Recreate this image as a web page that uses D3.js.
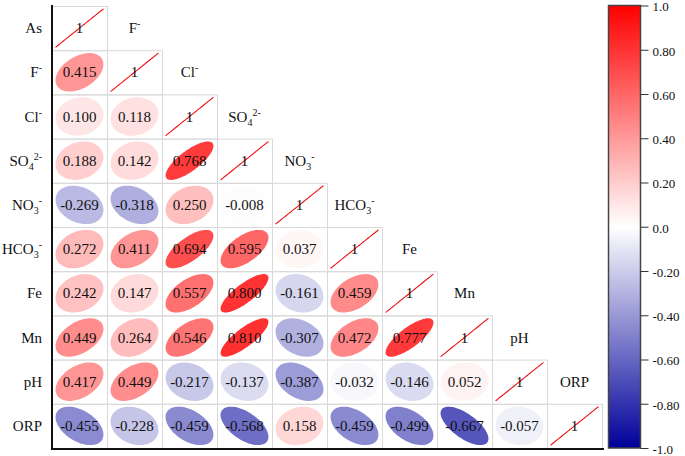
<!DOCTYPE html>
<html><head><meta charset="utf-8">
<script src="https://cdn.jsdelivr.net/npm/d3@7"></script>
<style>
html,body{margin:0;padding:0;background:#fff;}
text{font-family:"Liberation Serif","Times New Roman",serif;}
</style></head>
<body>
<svg id="chart" width="685" height="456"></svg>
<script>
// ---- data ----
const variables = ["As","F","Cl","SO4","NO3","HCO3","Fe","Mn","pH","ORP"];
// label parts: [base, subscript, superscript]
const labelParts = [
  ["As","",""],["F","","-"],["Cl","","-"],["SO","4","2-"],["NO","3","-"],
  ["HCO","3","-"],["Fe","",""],["Mn","",""],["pH","",""],["ORP","",""]
];
// lower-triangle correlations, row i has i values (columns 0..i-1)
const rowF    = [0.415];
const rowCl   = [0.100, 0.118];
const rowSO4  = [0.188, 0.142, 0.768];
const rowNO3  = [-0.269, -0.318, 0.250, -0.008];
const rowHCO3 = [0.272, 0.411, 0.694, 0.595, 0.037];
const rowFe   = [0.242, 0.147, 0.557, 0.800, -0.161, 0.459];
const rowMn   = [0.449, 0.264, 0.546, 0.810, -0.307, 0.472, 0.777];
const rowPH   = [0.417, 0.449, -0.217, -0.137, -0.387, -0.032, -0.146, 0.052];
const rowORP  = [-0.455, -0.228, -0.459, -0.568, 0.158, -0.459, -0.499, -0.667, -0.057];
const lowerRows = [[], rowF, rowCl, rowSO4, rowNO3, rowHCO3, rowFe, rowMn, rowPH, rowORP];
const colorbarTicks = [1.0, 0.8, 0.6, 0.4, 0.2, 0.0, -0.2, -0.4, -0.6, -0.8, -1.0];
const colorbarTickLabels = ["1.0","0.80","0.60","0.40","0.20","0.0","-0.20","-0.40","-0.60","-0.80","-1.0"];

// ---- build cells ----
const cells = [];
variables.forEach((rv, i) => {
  lowerRows[i].forEach((v, j) => cells.push({row: rv, col: variables[j], r: v, diag: false}));
  cells.push({row: rv, col: rv, r: 1, diag: true});
});

const svg = d3.select("#chart");
const x = d3.scaleBand().domain(variables).range([52, 602]);
const y = d3.scaleBand().domain(variables).range([6, 448]);
const color = d3.scaleLinear().domain([-1, 0, 1]).range(["#00009a", "#ffffff", "#ff0000"]);

const hwF = 0.435, hhF = 0.435;
function ellipsePath(r, cx, cy, hw, hh) {
  const d = Math.acos(Math.max(-1, Math.min(1, r)));
  const pts = d3.range(0, 101).map(k => {
    const t = k / 100 * 2 * Math.PI;
    return [cx + Math.cos(t + d / 2) * hw, cy - Math.cos(t - d / 2) * hh];
  });
  return d3.line()(pts) + "Z";
}

const g = svg.append("g");
// cell borders
g.selectAll("rect.cell").data(cells).join("rect")
  .attr("x", d => x(d.col) + 0.5).attr("y", d => y(d.row) + 0.5)
  .attr("width", x.bandwidth()).attr("height", y.bandwidth())
  .attr("fill", "none").attr("stroke", "#d9d9d9").attr("stroke-width", 1);

// ellipses
g.selectAll("path.ell").data(cells.filter(c => !c.diag)).join("path")
  .attr("d", d => ellipsePath(d.r, x(d.col) + x.bandwidth() / 2, y(d.row) + y.bandwidth() / 2,
        x.bandwidth() * hwF, y.bandwidth() * hhF))
  .attr("fill", d => color(d.r)).attr("stroke", "none");

// diagonal lines
g.selectAll("path.diag").data(cells.filter(c => c.diag)).join("path")
  .attr("d", d => ellipsePath(1, x(d.col) + x.bandwidth() / 2, y(d.row) + y.bandwidth() / 2,
        x.bandwidth() * hwF, y.bandwidth() * hhF))
  .attr("fill", "none").attr("stroke", "#ee1111").attr("stroke-width", 1.1);

// values
g.selectAll("text.val").data(cells).join("text")
  .attr("x", d => x(d.col) + x.bandwidth() / 2)
  .attr("y", d => y(d.row) + y.bandwidth() / 2)
  .attr("text-anchor", "middle").attr("dominant-baseline", "central")
  .attr("font-size", 15).attr("fill", "#111")
  .text(d => d.diag ? "1" : d.r.toFixed(3));

// label helper
function addLabel(sel, parts) {
  const [base, sub, sup] = parts;
  sel.append("tspan").text(base);
  if (sub) sel.append("tspan").attr("font-size", 10).attr("dy", 4).text(sub);
  if (sup) sel.append("tspan").attr("font-size", 10).attr("dy", sub ? -10 : -6).text(sup);
}

// row labels
variables.forEach((v, i) => {
  const t = svg.append("text")
    .attr("x", 42).attr("y", y(v) + y.bandwidth() / 2 + 5)
    .attr("text-anchor", "end").attr("font-size", 15).attr("fill", "#111");
  addLabel(t, labelParts[i]);
});
// column labels above diagonal
variables.forEach((v, i) => {
  if (i === 0) return;
  const t = svg.append("text")
    .attr("x", x(v) + x.bandwidth() / 2).attr("y", y(variables[i - 1]) + y.bandwidth() / 2 + 5)
    .attr("text-anchor", "middle").attr("font-size", 15).attr("fill", "#111");
  addLabel(t, labelParts[i]);
});

// axes lines
svg.append("line").attr("x1", 52).attr("x2", 52).attr("y1", 5).attr("y2", 449.5)
  .attr("stroke", "#111").attr("stroke-width", 2);
svg.append("line").attr("x1", 51).attr("x2", 604).attr("y1", 449).attr("y2", 449)
  .attr("stroke", "#111").attr("stroke-width", 2);

// colorbar
const cbX = 608.5, cbW = 32;
const cbY = d3.scaleLinear().domain([-1, 1]).range([448, 5.5]);
const defs = svg.append("defs");
const grad = defs.append("linearGradient").attr("id", "cbgrad")
  .attr("x1", 0).attr("x2", 0).attr("y1", 1).attr("y2", 0);
[-1, 0, 1].forEach(v => grad.append("stop")
  .attr("offset", ((v + 1) / 2 * 100) + "%").attr("stop-color", color(v)));
svg.append("rect").attr("x", cbX).attr("y", cbY(1)).attr("width", cbW)
  .attr("height", cbY(-1) - cbY(1)).attr("fill", "url(#cbgrad)")
  .attr("stroke", "#444").attr("stroke-width", 1.5);
const cbAxis = d3.axisRight(cbY).tickValues(colorbarTicks).tickSize(8).tickPadding(4)
  .tickFormat((d, i) => colorbarTickLabels[i]);
const ax = svg.append("g").attr("transform", `translate(${cbX + cbW},0)`).call(cbAxis);
ax.select(".domain").remove();
ax.selectAll(".tick line").attr("stroke", "#333");
ax.selectAll(".tick text").attr("font-family", "Liberation Serif").attr("font-size", 13)
  .attr("fill", "#111").attr("dy", "0.42em");
</script>
</body></html>
